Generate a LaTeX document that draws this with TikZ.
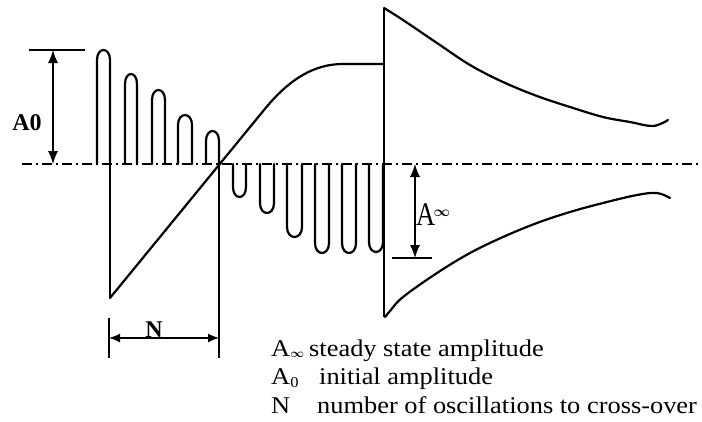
\documentclass[tikz,border=0pt]{standalone}
\usepackage{amsmath}
\usepackage{fontspec}
\usepackage{graphicx}
\setmainfont{Liberation Serif}
\newfontfamily\legendfont[FakeStretch=1.1]{Liberation Serif}
\usetikzlibrary{arrows.meta}
\tikzset{
  curve/.style={line width=2.2pt, line join=round, line cap=round},
  thinline/.style={line width=1.4pt},
  axisline/.style={line width=1.5pt, dash pattern=on 10pt off 4pt on 2pt off 4pt},
  dimarrow/.style={line width=1.2pt, {Latex[length=13pt,width=10pt]}-{Latex[length=13pt,width=10pt]}},
  dimarrowN/.style={line width=1.2pt, {Latex[length=11pt,width=9pt]}-{Latex[length=11pt,width=9pt]}},
  boldlabel/.style={inner sep=0, font=\bfseries\fontsize{24}{24}\selectfont},
  legend/.style={anchor=base west, inner sep=0, font=\legendfont\fontsize{24}{24}\selectfont}
}
\begin{document}
\begin{tikzpicture}[x=1pt,y=-1pt]
\useasboundingbox (0,0) rectangle (702,421);

% axis
\coordinate (axL) at (22,164);
\coordinate (axR) at (700,164);
\draw[axisline] (axL) -- (axR);

% positive decaying bumps
\foreach \a/\b/\p in {97/110/50, 125/137/74, 152/165/90, 178/192/115, 206/219/131}
  \draw[curve] (\a,164) -- (\a,\p+10) .. controls (\a,\p-3.3) and (\b,\p-3.3) .. (\b,\p+10) -- (\b,164);

% negative growing bumps
\foreach \a/\b/\p in {233/246/197, 260/274/213, 287/302/237, 315/329/253, 342/356/253, 369/383/252}
  \draw[curve] (\a,164) -- (\a,\p-10) .. controls (\a,\p+3.3) and (\b,\p+3.3) .. (\b,\p-10) -- (\b,164);

% verticals
\coordinate (v1top) at (110,164);
\coordinate (v1bot) at (110,298);
\draw[thinline] (v1top) -- (v1bot);
\coordinate (v2top) at (219,164);
\coordinate (v2bot) at (219,358);
\draw[thinline] (v2top) -- (v2bot);
\coordinate (v3top) at (384,8);
\coordinate (v3bot) at (384,317);
\draw[thinline] (v3top) -- (v3bot);

% ramp and plateau
\draw[curve] (v1bot) -- (264,110) .. controls (290,78) and (315,64) .. (343,64) -- (384,64);

% envelope curves
\draw[curve] plot[smooth, tension=0.6] coordinates {(384,8) (403,20) (437,43) (470,65) (503,82) (537,96) (570,107) (603,117) (630,122) (653,126) (668,120)};
\draw[curve] plot[smooth, tension=0.6] coordinates {(385,317) (390,311) (403,297) (437,273) (470,253) (503,237) (537,223) (570,212) (603,203) (637,195) (657,193) (670,198)};

% A0 dimension
\coordinate (a0top) at (53,50);
\coordinate (a0bot) at (53,164);
\draw[thinline] (29,50) -- (85,50);
\draw[dimarrow] (a0top) -- (a0bot);
\node[boldlabel] (a0lab) at (27,123) {A0};

% A-infinity dimension
\coordinate (aitop) at (415,164);
\coordinate (aibot) at (415,258);
\draw[thinline] (392,258) -- (432,258);
\draw[dimarrow] (aitop) -- (aibot);
\node[anchor=base west, inner sep=0] (ailab) at (416,225) {\scalebox{0.8}[1]{\fontsize{33}{33}\selectfont A}};
\node[inner sep=0] (aiinf) at (442,213) {\fontsize{15}{15}\selectfont$\boldsymbol{\infty}$};

% N dimension
\coordinate (nL) at (109,338);
\coordinate (nR) at (219,338);
\draw[thinline] (109,318) -- (109,358);
\draw[dimarrowN] (nL) -- (nR);
\node[boldlabel, anchor=base] (nlab) at (154,337) {N};

% legend
\node[legend] (l1a) at (271,356) {A\raisebox{-1pt}{\fontsize{12}{12}\selectfont$\boldsymbol{\infty}$}};
\node[legend] (l1b) at (309,356) {steady state amplitude};
\node[legend] (l2a) at (271,384) {A\raisebox{-3pt}{\fontsize{15}{15}\selectfont 0}};
\node[legend] (l2b) at (319,384) {initial amplitude};
\node[legend] (l3a) at (271,413) {N};
\node[legend] (l3b) at (317,413) {number of oscillations to cross-over};
\end{tikzpicture}
\end{document}
